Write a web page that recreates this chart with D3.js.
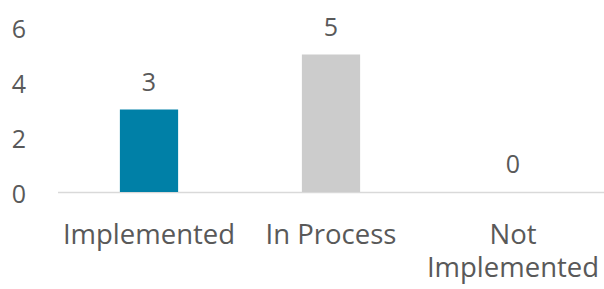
<!doctype html>
<html lang="en">
<head>
    <meta charset="utf-8">
    <title>Status chart</title>
    <script src="https://d3js.org/d3.v7.min.js"></script>
    <style>
        body {
            margin: 0;
            background-color: #fff;
        }
        text {
            font-family: "Open Sans", sans-serif;
            fill: #595959;
        }
        .yTicks .domain, .yTicks .tick line {
            opacity: 0;
        }
    </style>
</head>
<body>
    <div id="chart"></div>

    <script>
        const categories = ["Implemented", "In Process", "Not Implemented"];
        const values = [3, 5, 0];
        const colors = ["#0080a7", "#cccccc", "#a5a5a5"];
        const yTickValues = [0, 2, 4, 6];

        const width = 604;
        const height = 289;
        const margin = {left: 58, right: 0, top: 27, bottom: 97};

        const svg = d3.select("#chart").append("svg")
            .attr("width", width)
            .attr("height", height);

        const x = d3.scaleBand()
            .domain(categories)
            .range([margin.left, width - margin.right])
            .paddingInner(0.68)
            .paddingOuter(0.34);

        const y = d3.scaleLinear()
            .domain([0, 6])
            .range([height - margin.bottom, margin.top]);

        // y axis labels only
        const yAxis = svg.append("g")
            .attr("class", "yTicks")
            .attr("transform", `translate(${margin.left - 32},2)`)
            .call(d3.axisLeft(y).tickValues(yTickValues).tickFormat(d3.format("d")).tickSize(0).tickPadding(0));

        yAxis.selectAll(".tick text")
            .attr("font-size", 25)
            .attr("font-family", "Open Sans, sans-serif")
            .attr("fill", "#595959")
            .attr("dy", "0.35em");

        // baseline
        svg.append("line")
            .attr("x1", margin.left)
            .attr("x2", width - margin.right)
            .attr("y1", y(0) + 0.5)
            .attr("y2", y(0) + 0.5)
            .attr("stroke", "#d9d9d9")
            .attr("stroke-width", 1.5);

        svg.selectAll(".bar")
            .data(categories)
            .enter().append("rect")
            .attr("class", "bar")
            .attr("x", d => x(d))
            .attr("y", (d, i) => y(values[i]))
            .attr("width", x.bandwidth())
            .attr("height", (d, i) => y(0) - y(values[i]))
            .attr("fill", (d, i) => colors[i]);

        svg.selectAll(".label")
            .data(categories)
            .enter().append("text")
            .attr("class", "label")
            .text((d, i) => values[i])
            .attr("text-anchor", "middle")
            .attr("font-size", 25)
            .attr("x", d => x(d) + x.bandwidth() / 2)
            .attr("y", (d, i) => y(values[i]) - 19);

        // category labels, wrapped to the band step
        const maxLine = x.step();
        const catLabels = svg.selectAll(".cat")
            .data(categories)
            .enter().append("text")
            .attr("class", "cat")
            .attr("text-anchor", "middle")
            .attr("font-size", 27.5)
            .attr("x", d => x(d) + x.bandwidth() / 2)
            .attr("y", y(0) + 52);

        catLabels.each(function(d) {
            const el = d3.select(this);
            const cx = el.attr("x");
            const words = d.split(" ");
            let line = [];
            let tspan = el.append("tspan").attr("x", cx).attr("dy", 0);
            words.forEach(w => {
                line.push(w);
                tspan.text(line.join(" "));
                if (tspan.node().getComputedTextLength() > maxLine && line.length > 1) {
                    line.pop();
                    tspan.text(line.join(" "));
                    line = [w];
                    tspan = el.append("tspan").attr("x", cx).attr("dy", 33).text(w);
                }
            });
        });
    </script>
</body>
</html>
